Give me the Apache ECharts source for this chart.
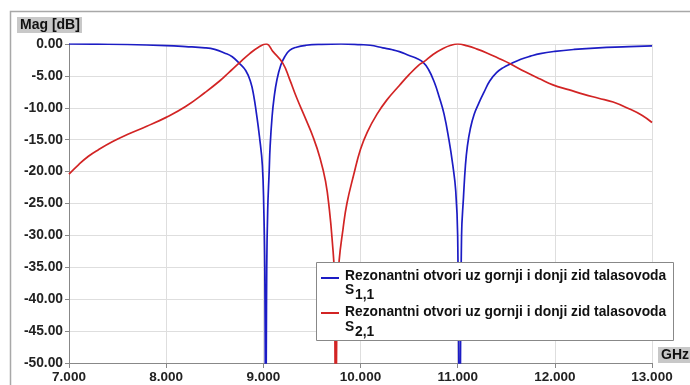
<!DOCTYPE html>
<html><head><meta charset="utf-8">
<script src="https://cdn.jsdelivr.net/npm/echarts@6/dist/echarts.min.js"></script>
<style>html,body{margin:0;padding:0;background:#fff}#c{width:690px;height:385px}</style>
</head><body><div id="c"></div>
<script>
// S1,1 (blue): [GHz, dB]
const s11Freq = [7.0,7.3,7.6,8.0,8.2,8.4,8.5,8.6,8.68,8.75,8.82,8.87,8.9,8.93,8.96,8.99,9.005,9.015,9.025,9.035,9.045,9.06,9.07,9.09,9.11,9.14,9.18,9.22,9.27,9.34,9.44,9.6,9.8,10.0,10.1,10.23,10.33,10.4,10.5,10.57,10.64,10.7,10.76,10.81,10.86,10.91,10.95,10.98,11.0,11.02,11.04,11.06,11.08,11.1,11.13,11.17,11.22,11.27,11.33,11.4,11.47,11.54,11.65,11.75,11.85,12.0,12.2,12.45,12.7,13.0];
const s11dB   = [0.0,-0.03,-0.08,-0.25,-0.4,-0.6,-0.85,-1.4,-2.0,-3.0,-4.2,-6.0,-8.0,-11.0,-14.5,-19,-26,-35,-65,-35,-26,-20,-16,-11.4,-8.5,-5.6,-3.3,-2.0,-1.0,-0.5,-0.2,-0.05,0.0,-0.1,-0.2,-0.6,-0.9,-1.2,-1.8,-2.2,-2.8,-4.0,-6.0,-8.3,-11,-15,-19,-23,-30,-65,-30,-24,-19,-16,-13.3,-11,-9.2,-7.6,-5.8,-4.5,-3.7,-3.15,-2.4,-1.9,-1.5,-1.15,-0.85,-0.6,-0.45,-0.3];
// S2,1 (red): [GHz, dB]
const s21Freq = [7.0,7.1,7.2,7.3,7.45,7.6,7.8,8.0,8.2,8.4,8.55,8.65,8.75,8.86,8.95,9.03,9.1,9.2,9.27,9.34,9.44,9.51,9.58,9.64,9.68,9.71,9.73,9.745,9.76,9.78,9.82,9.86,9.93,10.0,10.07,10.17,10.27,10.4,10.5,10.6,10.65,10.75,10.85,10.93,11.0,11.1,11.2,11.3,11.43,11.54,11.7,11.85,11.98,12.15,12.3,12.45,12.6,12.77,12.9,13.0];
const s21dB   = [-20.4,-18.9,-17.6,-16.6,-15.3,-14.2,-12.9,-11.5,-9.8,-7.6,-5.8,-4.4,-3.0,-1.5,-0.5,0.0,-1.2,-3.0,-5.5,-8.3,-11.9,-14.5,-17.7,-21.5,-26,-31,-36,-65,-40,-34,-29,-25,-20.5,-16.5,-13.8,-11.0,-8.8,-6.5,-4.8,-3.3,-2.8,-1.6,-0.7,-0.2,0.0,-0.3,-0.8,-1.4,-2.3,-3.1,-4.4,-5.5,-6.4,-7.2,-7.9,-8.5,-9.1,-10.2,-11.2,-12.3];
const legendName = 'Rezonantni otvori uz gornji i donji zid talasovoda';
const s11Label = ['S', '1,1'];
const s21Label = ['S', '2,1'];
const yTitle = 'Mag [dB]';
const xTitle = 'GHz';

const zip = (a, b) => a.map((v, i) => [v, b[i]]);
const chart = echarts.init(document.getElementById('c'));
const FONT = '"Liberation Sans", Arial, sans-serif';
const BLUE = '#1c1cc4', RED = '#d22424';
const LF = 'bold 13.8px ' + FONT;

chart.setOption({
  animation: false,
  grid: { left: 69, top: 44, right: 38, bottom: 22, containLabel: false },
  xAxis: {
    type: 'value', min: 7, max: 13, interval: 1,
    axisLine: { onZero: false, lineStyle: { color: '#888', width: 1 } },
    axisTick: { show: true, length: 5, lineStyle: { color: '#888' } },
    axisLabel: { formatter: v => v.toFixed(3), color: '#222', fontFamily: FONT, fontWeight: 'bold', fontSize: 13.5, margin: 7, showMaxLabel: true, showMinLabel: true },
    splitLine: { show: true, lineStyle: { color: '#dedede', width: 1 } }
  },
  yAxis: {
    type: 'value', min: -50, max: 0, interval: 5,
    axisLine: { show: true, onZero: false, lineStyle: { color: '#888', width: 1 } },
    axisTick: { show: true, length: 4, lineStyle: { color: '#888' } },
    axisLabel: { formatter: v => v.toFixed(2), color: '#222', fontFamily: FONT, fontWeight: 'bold', fontSize: 13.8, margin: 6 },
    splitLine: { show: true, lineStyle: { color: '#dedede', width: 1 } }
  },
  series: [
    { type: 'line', name: 'S11', data: zip(s11Freq, s11dB), showSymbol: false, smooth: 0.45, clip: true, lineStyle: { color: BLUE, width: 1.7 }, itemStyle: { color: BLUE }, z: 3 },
    { type: 'line', name: 'S21', data: zip(s21Freq, s21dB), showSymbol: false, smooth: 0.45, clip: true, lineStyle: { color: RED, width: 1.7 }, itemStyle: { color: RED }, z: 3 }
  ],
  graphic: [
    { type: 'rect', shape: { x: 10.5, y: 11.5, width: 700, height: 400 }, style: { fill: 'none', stroke: '#a8a8a8', lineWidth: 1.5 }, silent: true, z: 0 },
    { type: 'rect', shape: { x: 17, y: 17, width: 65, height: 16 }, style: { fill: '#c8c8c8' }, z: 10 },
    { type: 'text', x: 20, y: 18, style: { text: yTitle, font: 'bold 14px ' + FONT, fill: '#111' }, z: 11 },
    { type: 'rect', shape: { x: 658, y: 347, width: 32, height: 16 }, style: { fill: '#c8c8c8' }, z: 10 },
    { type: 'text', x: 661, y: 348, style: { text: xTitle, font: 'bold 14px ' + FONT, fill: '#111' }, z: 11 },
    { type: 'rect', shape: { x: 316.5, y: 262.5, width: 357, height: 78 }, style: { fill: '#fff', stroke: '#888', lineWidth: 1 }, z: 20 },
    { type: 'line', shape: { x1: 321, y1: 278, x2: 339, y2: 278 }, style: { stroke: BLUE, lineWidth: 2 }, z: 21 },
    { type: 'line', shape: { x1: 321, y1: 313, x2: 339, y2: 313 }, style: { stroke: RED, lineWidth: 2 }, z: 21 },
    { type: 'text', x: 345, y: 269, style: { text: legendName, font: LF, fill: '#111' }, z: 21 },
    { type: 'text', x: 345, y: 283, style: { text: s11Label[0], font: LF, fill: '#111' }, z: 21 },
    { type: 'text', x: 355, y: 288, style: { text: s11Label[1], font: LF, fill: '#111' }, z: 21 },
    { type: 'text', x: 345, y: 305, style: { text: legendName, font: LF, fill: '#111' }, z: 21 },
    { type: 'text', x: 345, y: 320, style: { text: s21Label[0], font: LF, fill: '#111' }, z: 21 },
    { type: 'text', x: 355, y: 325, style: { text: s21Label[1], font: LF, fill: '#111' }, z: 21 }
  ]
});
</script></body></html>
